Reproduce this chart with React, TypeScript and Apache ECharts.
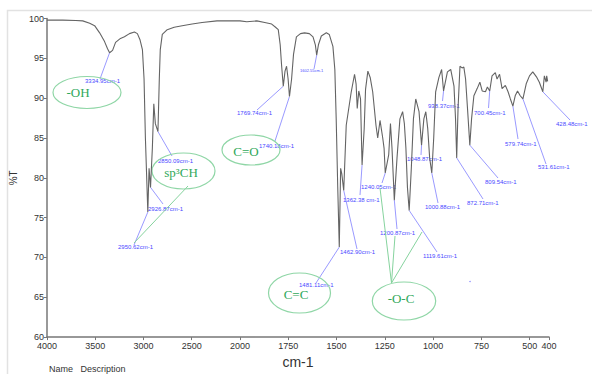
import React, { useEffect, useRef } from 'react';
import * as echarts from 'echarts';

// Spectrum: wavenumber (cm-1) and transmittance (%T)
const wavenumbers = [
  4000, 3835, 3701, 3629, 3557, 3506, 3454, 3403, 3372, 3351, 3320, 3289, 3238, 3197, 3145, 3094, 3063, 3035, 3011, 2994,
  2980, 2955, 2942, 2927, 2908, 2893, 2877, 2850, 2836, 2826, 2805, 2754, 2682, 2599, 2496, 2393, 2239, 2084, 2000,
  1965, 1913, 1872, 1836, 1816, 1802, 1792, 1785, 1776, 1767, 1759, 1751, 1744, 1733, 1723, 1708, 1687, 1666, 1641, 1622,
  1610, 1603, 1594, 1579, 1553, 1538, 1519, 1509, 1502, 1494, 1486, 1479, 1473, 1463, 1450, 1424, 1407, 1399, 1393, 1385,
  1376, 1368, 1357, 1350, 1338, 1326, 1313, 1296, 1287, 1275, 1261, 1254, 1248, 1230, 1221, 1213, 1201, 1187, 1172, 1158,
  1149, 1141, 1133, 1124, 1113, 1102, 1090, 1073, 1060, 1048, 1038, 1028, 1018, 1007, 997, 987, 970, 956, 946, 926,
  909, 892, 884, 878, 871, 861, 850, 841, 832, 822, 810, 801, 789, 772, 758, 746, 729, 719, 707, 695,
  678, 669, 656, 643, 626, 612, 600, 587, 575, 563, 549, 535, 518, 501, 484, 463, 450, 432, 424, 415, 412, 407,
];
const transmittance = [
  99.8, 99.8, 99.75, 99.7, 99.4, 99.1, 98.2, 97.1, 96.2, 95.7, 96.0, 97.0, 97.5, 97.7, 98.1, 98.3, 98.1, 97.3, 96.1, 92.4,
  85.0, 75.7, 81.2, 78.8, 83.7, 89.3, 86.8, 85.8, 92.4, 96.1, 98.0, 98.6, 98.9, 99.1, 99.3, 99.5, 99.7, 99.7, 99.7,
  99.6, 99.7, 99.5, 99.3, 98.9, 98.6, 96.7, 94.2, 91.5, 93.4, 94.0, 92.4, 90.2, 92.4, 95.5, 97.7, 98.1, 98.2, 98.1, 97.7,
  96.7, 95.4, 96.7, 97.8, 98.2, 98.0, 96.5, 93.6, 87.4, 78.8, 71.3, 81.2, 80.5, 78.4, 86.6, 90.8, 93.0, 91.8, 88.7, 90.9,
  89.9, 81.6, 86.2, 91.1, 93.4, 92.6, 90.8, 86.6, 85.0, 87.2, 85.0, 83.7, 80.6, 82.9, 86.8, 83.7, 77.2, 82.5, 87.4, 88.3,
  86.8, 83.7, 78.8, 75.9, 81.2, 87.4, 89.9, 88.3, 84.1, 87.4, 88.3, 86.2, 82.5, 80.6, 85.0, 90.8, 92.6, 93.6, 90.9, 93.3,
  93.6, 91.5, 87.4, 82.5, 88.7, 94.0, 93.8, 93.9, 92.4, 88.7, 84.1, 87.4, 90.3, 91.2, 92.0, 90.9, 90.8, 91.4, 90.9, 92.8,
  93.2, 92.4, 93.0, 91.2, 91.6, 90.8, 89.9, 89.0, 90.3, 90.9, 90.3, 89.9, 91.8, 92.8, 93.3, 92.6, 92.0, 90.8, 92.8, 92.0, 92.8, 92.1,
];

// Peak annotations: label text and the wavenumber on the curve they point to
const peakLabels = [
  '3334.95cm-1', '2950.62cm-1', '2926.87cm-1', '2850.09cm-1', '1769.74cm-1', '1740.18cm-1', '1602.55cm-1',
  '1481.11cm-1', '1462.90cm-1', '1362.38 cm-1', '1240.05cm-1', '1200.87cm-1', '1119.61cm-1', '1048.87cm-1',
  '1000.88cm-1', '938.37cm-1', '872.71cm-1', '809.54cm-1', '700.45cm-1', '579.74cm-1', '531.61cm-1', '428.48cm-1',
];
const peakAt = [3351, 2955, 2927, 2850, 1776, 1744, 1603, 1486, 1463, 1368, 1248, 1201, 1124, 1060, 1007, 946, 878, 810, 707, 587, 535, 432];

// Group annotations
const groupLabels = ['-OH', 'sp³CH', 'C=O', 'C=C', '-O-C'];

const xTickStep = 500;

// layout (pixels): [textLeft, textMidY, pointerEndX, pointerEndY, fontSize]
const peakLayout: number[][] = [
  [85, 81, 100, 79, 6], [118, 247, 134, 245, 6], [148, 209, 163, 204, 6], [158, 161, 172, 156, 6],
  [237, 113, 257, 110, 6], [259, 146, 275, 141, 6], [300, 70, 314, 69, 4], [299, 285, 316, 283, 6],
  [340, 252, 357, 249, 6], [343, 200, 360, 195, 6], [361, 187, 382, 183, 6], [380, 233, 397, 229, 6],
  [423, 256, 437, 252, 6], [407, 159, 421, 155, 6], [425, 207, 438, 203, 6], [428, 106, 442.5, 101, 6],
  [467, 203, 483, 199, 6], [485, 182, 498, 178, 6], [474, 113, 488.5, 108, 6], [505, 144, 518, 139, 6],
  [538, 167, 546, 164, 6], [556, 124, 570, 120, 6],
];
// [cx, cy, rx, ry, textCenterX, textCenterY]
const groupLayout: number[][] = [
  [87, 92.5, 34, 16, 78, 92],
  [183.5, 171, 31.5, 18, 181, 172],
  [251, 150, 29, 15, 246, 151],
  [299.5, 293, 31, 20, 296, 294],
  [404, 301, 31.7, 19, 401, 298],
];
// green connector lines [x1, y1, x2, y2]
const groupLinks: number[][] = [
  [188, 186, 134, 243],
  [391.5, 283, 380, 188],
  [391.5, 283, 395, 236],
  [391.5, 283, 422, 232],
];

const toAxis = (w: number) => (w >= 2000 ? 4000 - w : 2000 + (2000 - w) * 2);
const fromAxis = (p: number) => (p <= 2000 ? 4000 - p : 2000 - (p - 2000) / 2);

const SANS = '"Liberation Sans Narrow", "Liberation Sans", Arial, sans-serif';
const SERIF = '"Liberation Serif", "Times New Roman", serif';

export default function App() {
  const ref = useRef<HTMLDivElement>(null);
  useEffect(() => {
    if (!ref.current) return;
    const chart = echarts.init(ref.current, undefined, { renderer: 'svg' });
    const seriesData = wavenumbers.map((w, i) => [toAxis(w), transmittance[i]]);
    chart.setOption({
      animation: false,
      backgroundColor: '#ffffff',
      grid: { left: 44, right: 43, top: 18.5, bottom: 32.5 },
      xAxis: {
        type: 'value',
        min: 0,
        max: toAxis(400),
        interval: xTickStep,
        name: 'cm-1',
        nameLocation: 'middle',
        nameGap: 9,
        nameTextStyle: { fontSize: 14, color: '#333', fontFamily: SANS },
        axisLine: { show: true, onZero: false, lineStyle: { color: '#777', width: 1.5 } },
        axisTick: { show: true, length: 3, lineStyle: { color: '#777' } },
        axisLabel: {
          formatter: (v: number) => String(Math.round(fromAxis(v))),
          fontSize: 9,
          color: '#333',
          margin: 4,
          fontFamily: SANS,
        },
        splitLine: { show: false },
      },
      yAxis: {
        type: 'value',
        min: 60,
        max: 100,
        interval: 5,
        name: '%T',
        nameLocation: 'middle',
        nameGap: 24,
        nameTextStyle: { fontSize: 10, color: '#333', fontFamily: SANS },
        axisLine: { show: true, lineStyle: { color: '#777', width: 1.5 } },
        axisTick: { show: true, length: 3, lineStyle: { color: '#777' } },
        axisLabel: { fontSize: 9, color: '#333', margin: 3, fontFamily: SANS },
        splitLine: { show: false },
      },
      series: [
        {
          type: 'line',
          data: seriesData,
          showSymbol: false,
          symbol: 'none',
          lineStyle: { color: '#646464', width: 1.1 },
          silent: true,
        },
      ],
    });

    const graphics: any[] = [];
    graphics.push({
      type: 'rect',
      silent: true,
      z: -10,
      shape: { x: 7.5, y: 10.5, width: 640, height: 420 },
      style: { fill: 'none', stroke: '#e2e2e2', lineWidth: 1.5 },
    });
    peakLabels.forEach((label, i) => {
      const w = peakAt[i];
      const idx = wavenumbers.indexOf(w);
      const pt = chart.convertToPixel({ xAxisIndex: 0, yAxisIndex: 0 }, [toAxis(w), transmittance[idx]]) as number[];
      const [tx, ty, ex, ey, fs] = peakLayout[i];
      graphics.push({
        type: 'line',
        silent: true,
        shape: { x1: pt[0], y1: pt[1], x2: ex, y2: ey },
        style: { stroke: '#7f7fff', lineWidth: 0.8 },
      });
      graphics.push({
        type: 'text',
        silent: true,
        x: tx,
        y: ty,
        style: { text: label, fill: '#4a4aff', fontSize: fs, fontFamily: SANS, align: 'left', verticalAlign: 'middle' },
      });
    });
    groupLinks.forEach(([x1, y1, x2, y2]) => {
      graphics.push({
        type: 'line',
        silent: true,
        shape: { x1, y1, x2, y2 },
        style: { stroke: '#86d39e', lineWidth: 1 },
      });
    });
    groupLabels.forEach((label, i) => {
      const [cx, cy, rx, ry, tx, ty] = groupLayout[i];
      graphics.push({
        type: 'ellipse',
        silent: true,
        shape: { cx, cy, rx, ry },
        style: { fill: 'none', stroke: '#8fd6a6', lineWidth: 1.2 },
      });
      graphics.push({
        type: 'text',
        silent: true,
        x: tx,
        y: ty,
        style: { text: label, fill: '#2fa85a', fontSize: 13, fontFamily: SERIF, align: 'center', verticalAlign: 'middle' },
      });
    });
    graphics.push({
      type: 'circle',
      silent: true,
      shape: { cx: 470, cy: 281.5, r: 0.6 },
      style: { fill: '#6a6aff' },
    });
    graphics.push({
      type: 'text',
      silent: true,
      x: 49,
      y: 369,
      style: { text: 'Name   Description', fill: '#333', fontSize: 9, fontFamily: SANS, align: 'left', verticalAlign: 'middle' },
    });
    chart.setOption({ graphic: graphics });

    return () => chart.dispose();
  }, []);
  return (
    <div
      ref={ref}
      style={{ position: 'absolute', left: 0, top: 0, width: 592, height: 374, background: '#fff' }}
    />
  );
}
